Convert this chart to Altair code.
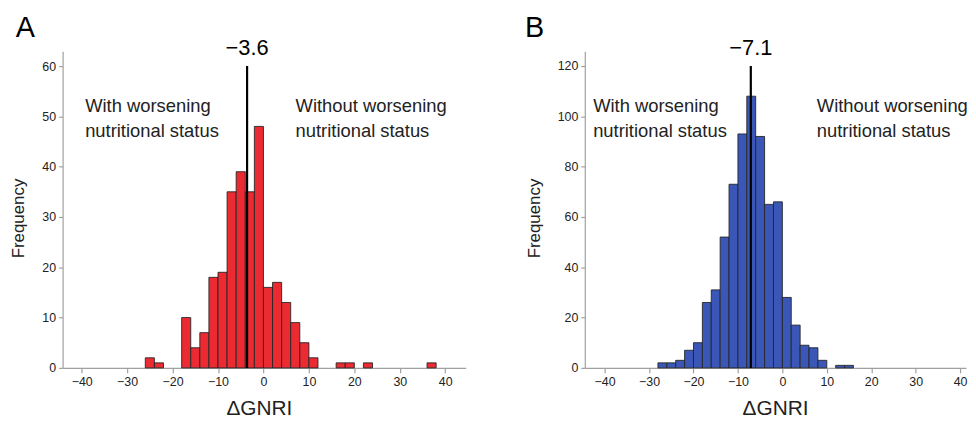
import altair as alt
import pandas as pd

# ---- data ----
bin_width = 2
a_bin_start = [-26, -24, -18, -16, -14, -12, -10, -8, -6, -4, -2, 0, 2, 4, 6, 8, 10, 16, 18, 22, 36]
a_counts = [2, 1, 10, 4, 7, 18, 19, 35, 39, 35, 48, 16, 17, 13, 9, 5, 2, 1, 1, 1, 1]

b_bin_start = [-28, -26, -24, -22, -20, -18, -16, -14, -12, -10, -8, -6, -4, -2, 0, 2, 4, 6, 8, 12, 14]
b_counts = [2, 2, 3, 7, 10, 26, 31, 52, 73, 93, 108, 92, 65, 66, 28, 17, 9, 8, 3, 1, 1]

medians = [-3.6, -7.1]
median_labels = ["\u22123.6", "\u22127.1"]
median_line_top = [60, 120]
panel_letters = ["A", "B"]
left_text = ["With worsening", "nutritional status"]
right_text = ["Without worsening", "nutritional status"]
x_ticks = [-40, -30, -20, -10, 0, 10, 20, 30, 40]
a_y_ticks = [0, 10, 20, 30, 40, 50, 60]
b_y_ticks = [0, 20, 40, 60, 80, 100, 120]

FONT = "Liberation Sans"


def make_panel(starts, counts, color, xdom, ydom, yticks, width, height,
               median, mlabel, mtop, letter, letter_x, ltx, rtx, title_x):
    df = pd.DataFrame({"start": starts, "count": counts})
    df["end"] = df["start"] + bin_width
    df["zero"] = 0
    one = alt.Data(values=[{}])

    bars = alt.Chart(df).mark_bar(color=color, stroke="#262626", strokeWidth=0.9).encode(
        x=alt.X("start:Q", scale=alt.Scale(domain=xdom, nice=False, zero=False),
                axis=alt.Axis(values=x_ticks, title="\u0394GNRI", grid=False,
                              titleX=title_x)),
        x2="end:Q",
        y=alt.Y("count:Q", scale=alt.Scale(domain=ydom, nice=False),
                axis=alt.Axis(values=yticks, title="Frequency", grid=False, titleY=168)),
        y2="zero:Q",
    )
    line = alt.Chart(one).mark_rule(color="black", strokeWidth=2.2).encode(
        x=alt.datum(median), y=alt.datum(mtop), y2=alt.datum(0)
    )
    mtext = alt.Chart(one).mark_text(fontSize=22, baseline="middle", align="center",
                                     color="black").encode(
        x=alt.datum(median), y=alt.value(-3), text=alt.value(mlabel)
    )
    let = alt.Chart(one).mark_text(fontSize=29, baseline="middle", align="left",
                                   color="black").encode(
        x=alt.value(letter_x), y=alt.value(-23.5), text=alt.value(letter)
    )
    lt = alt.Chart(one).mark_text(fontSize=18.5, baseline="alphabetic", align="left",
                                  lineHeight=25, color="#222222").encode(
        x=alt.value(ltx), y=alt.value(61.5), text=alt.value(left_text)
    )
    rt = alt.Chart(one).mark_text(fontSize=18.5, baseline="alphabetic", align="left",
                                  lineHeight=25, color="#222222", limit=153,
                                  ellipsis="").encode(
        x=alt.value(rtx), y=alt.value(61.5), text=alt.value(right_text)
    )
    return alt.layer(bars, line, mtext, let, lt, rt).properties(width=width, height=height)


panel_a = make_panel(a_bin_start, a_counts, "#ec2a32", [-44.2, 44.5], [0, 62.96], a_y_ticks,
                     406, 319, medians[0], median_labels[0], median_line_top[0],
                     panel_letters[0], -47.3, 22.7, 234.7, 197.7)
panel_b = make_panel(b_bin_start, b_counts, "#3a57b8", [-44.46, 41.33], [0, 125.9], b_y_ticks,
                     384, 319, medians[1], median_labels[1], median_line_top[1],
                     panel_letters[1], -60.3, 8.4, 233.7, 191.7)

chart = alt.hconcat(panel_a, panel_b, spacing=120, bounds="flush").properties(
    padding={"left": 2, "top": 4, "right": 0, "bottom": 0}
).configure(font=FONT).configure_view(stroke=None).configure_axis(
    domainColor="#a0a0a0",
    domainWidth=1.2,
    tickColor="#a0a0a0",
    tickWidth=1.2,
    labelColor="#222222",
    labelFontSize=12.5,
    labelFont=FONT,
    titleFont=FONT,
    titleFontWeight="normal",
    titleColor="#222222",
).configure_axisY(
    tickSize=4, labelPadding=3, titleFontSize=17, titlePadding=14
).configure_axisX(
    tickSize=5, labelPadding=3, titleFontSize=21, titlePadding=9
)

chart.save("out.html", embed_options={"renderer": "svg", "actions": False})
